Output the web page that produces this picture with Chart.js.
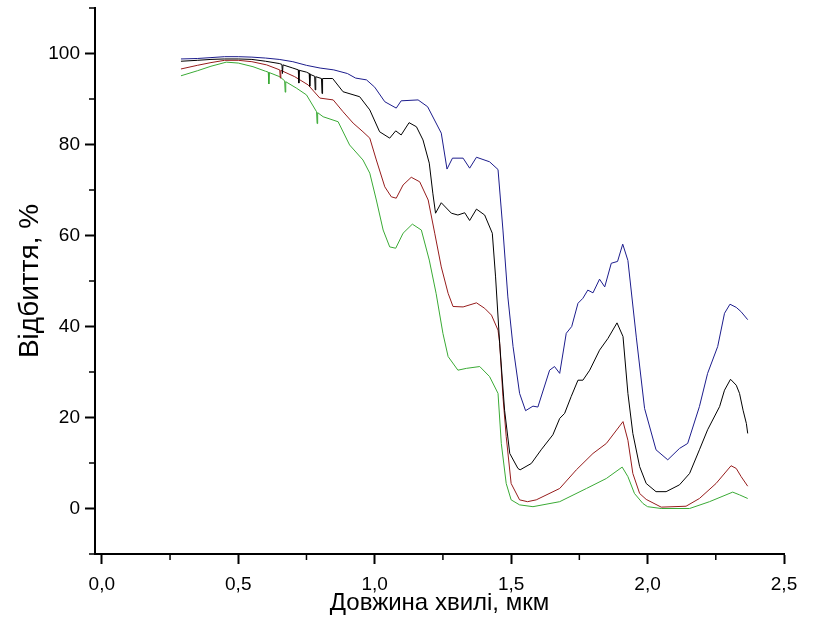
<!DOCTYPE html>
<html lang="uk">
<head>
<meta charset="utf-8">
<title>Відбиття</title>
<script src="https://cdn.jsdelivr.net/npm/chart.js@4.4.1/dist/chart.umd.min.js"></script>
<style>
  html, body { margin: 0; padding: 0; background: #fff; }
  #grafik { display: block; }
</style>
</head>
<body>
<canvas id="grafik" width="823" height="618"></canvas>
<script>
// Спектри відбиття, %, від довжини хвилі, мкм (чотири зразки)
const dovzhynaSynii = [0.29, 0.35, 0.4, 0.45, 0.5, 0.55, 0.6, 0.65, 0.7, 0.75, 0.8, 0.85, 0.9, 0.93, 0.97, 1.0, 1.037, 1.079, 1.097, 1.159, 1.194, 1.244, 1.265, 1.285, 1.324, 1.348, 1.373, 1.421, 1.452, 1.47, 1.488, 1.507, 1.531, 1.553, 1.58, 1.598, 1.641, 1.659, 1.678, 1.702, 1.722, 1.745, 1.763, 1.781, 1.8, 1.824, 1.843, 1.867, 1.89, 1.909, 1.928, 1.959, 1.989, 2.031, 2.074, 2.117, 2.147, 2.19, 2.22, 2.257, 2.282, 2.302, 2.325, 2.342, 2.367];
const vidbyttiaSynii = [98.8, 98.9, 99.1, 99.3, 99.3, 99.2, 99.0, 98.7, 98.2, 97.4, 96.8, 96.4, 95.6, 94.6, 94.2, 92.6, 89.4, 88.0, 89.6, 89.8, 88.3, 82.5, 74.6, 77.0, 77.0, 74.8, 77.2, 76.2, 74.5, 61.2, 46.5, 35.6, 25.3, 21.5, 22.5, 22.3, 30.4, 31.2, 29.7, 38.5, 40.0, 45.1, 46.2, 48.0, 47.4, 50.4, 48.7, 53.9, 54.3, 58.1, 54.5, 37.5, 22.0, 12.9, 10.7, 13.2, 14.3, 22.4, 29.7, 35.6, 42.9, 44.9, 44.2, 43.3, 41.5];

const dovzhynaChornyi = [0.29, 0.35, 0.4, 0.45, 0.5, 0.55, 0.6, 0.65, 0.66, 0.662, 0.664, 0.7, 0.72, 0.722, 0.724, 0.75, 0.76, 0.762, 0.764, 0.78, 0.782, 0.784, 0.805, 0.807, 0.809, 0.846, 0.884, 0.945, 0.982, 1.018, 1.055, 1.077, 1.097, 1.126, 1.153, 1.177, 1.2, 1.213, 1.223, 1.244, 1.281, 1.305, 1.33, 1.348, 1.373, 1.403, 1.431, 1.443, 1.458, 1.476, 1.495, 1.525, 1.533, 1.574, 1.61, 1.653, 1.678, 1.696, 1.72, 1.745, 1.763, 1.788, 1.824, 1.855, 1.888, 1.91, 1.928, 1.946, 1.971, 1.995, 2.031, 2.068, 2.117, 2.154, 2.19, 2.22, 2.264, 2.282, 2.304, 2.325, 2.337, 2.35, 2.362, 2.367];
const vidbyttiaChornyi = [98.3, 98.5, 98.7, 98.8, 98.8, 98.7, 98.3, 97.8, 97.6, 95.6, 97.5, 96.8, 96.4, 93.5, 96.3, 95.9, 95.6, 92.8, 95.4, 95.0, 92.0, 94.9, 94.5, 91.2, 94.5, 94.5, 91.6, 90.5, 87.6, 82.8, 81.4, 83.0, 82.1, 84.8, 83.9, 81.0, 75.9, 69.3, 64.9, 67.2, 64.9, 64.5, 65.0, 63.3, 65.8, 64.5, 60.5, 50.9, 36.3, 21.6, 12.1, 8.8, 8.5, 9.9, 12.9, 16.2, 19.8, 20.9, 24.6, 28.2, 28.2, 30.4, 34.8, 37.4, 40.8, 37.8, 25.3, 16.5, 9.2, 5.5, 3.7, 3.7, 5.2, 7.7, 12.9, 17.3, 22.4, 26.0, 28.4, 27.1, 25.3, 21.6, 18.7, 16.5];

const dovzhynaChervonyi = [0.29, 0.35, 0.4, 0.45, 0.5, 0.55, 0.604, 0.652, 0.654, 0.656, 0.707, 0.756, 0.799, 0.848, 0.884, 0.921, 0.957, 0.982, 1.006, 1.037, 1.061, 1.079, 1.104, 1.134, 1.165, 1.196, 1.22, 1.244, 1.269, 1.287, 1.324, 1.373, 1.403, 1.428, 1.452, 1.458, 1.47, 1.482, 1.5, 1.531, 1.56, 1.592, 1.678, 1.739, 1.8, 1.849, 1.91, 1.928, 1.946, 1.971, 1.995, 2.05, 2.141, 2.19, 2.251, 2.306, 2.325, 2.343, 2.367];
const vidbyttiaChervonyi = [96.6, 97.4, 98.0, 98.5, 98.5, 98.2, 97.5, 96.4, 94.6, 96.3, 94.9, 93.1, 90.2, 89.8, 87.2, 84.7, 82.8, 81.4, 76.6, 70.7, 68.5, 68.2, 71.1, 72.8, 71.8, 67.8, 60.5, 53.1, 47.3, 44.4, 44.3, 45.2, 44.0, 42.5, 39.2, 36.4, 24.6, 15.8, 5.5, 1.9, 1.5, 1.9, 4.4, 8.5, 12.1, 14.3, 19.1, 15.0, 7.7, 3.3, 2.0, 0.3, 0.5, 2.2, 5.5, 9.4, 8.8, 7.0, 4.9];

const dovzhynaZelenyi = [0.29, 0.35, 0.4, 0.456, 0.5, 0.554, 0.6, 0.61, 0.612, 0.614, 0.652, 0.67, 0.672, 0.674, 0.713, 0.75, 0.787, 0.789, 0.791, 0.811, 0.866, 0.908, 0.957, 0.982, 1.006, 1.031, 1.055, 1.077, 1.104, 1.138, 1.171, 1.2, 1.225, 1.25, 1.269, 1.305, 1.336, 1.385, 1.421, 1.452, 1.464, 1.482, 1.5, 1.531, 1.58, 1.678, 1.776, 1.849, 1.907, 1.928, 1.952, 1.983, 2.0, 2.05, 2.154, 2.227, 2.312, 2.337, 2.367];
const vidbyttiaZelenyi = [95.1, 96.2, 97.2, 98.1, 97.9, 97.1, 96.1, 95.9, 93.3, 95.8, 94.9, 94.0, 91.5, 93.8, 92.4, 90.9, 87.2, 84.6, 87.0, 86.1, 85.0, 79.9, 76.6, 73.7, 67.8, 61.2, 57.5, 57.2, 60.5, 62.5, 61.2, 54.6, 47.3, 38.5, 33.4, 30.4, 30.8, 31.2, 29.0, 25.3, 14.3, 5.5, 1.9, 0.8, 0.4, 1.5, 4.4, 6.6, 9.1, 7.0, 3.3, 1.1, 0.4, 0.0, 0.0, 1.5, 3.6, 3.0, 2.2];

// Поділки осей
const xPodilky = [0, 0.5, 1.0, 1.5, 2.0, 2.5];
const xDribni = [0.25, 0.75, 1.25, 1.75, 2.25];
const yPodilky = [0, 20, 40, 60, 80, 100];
const yDribni = [-10, 10, 30, 50, 70, 90, 110];

function tochky(xs, ys) {
  return xs.map((x, i) => ({ x: x, y: ys[i] }));
}

function liniia(dani, kolir) {
  return {
    data: dani,
    borderColor: kolir,
    borderWidth: 1,
    pointRadius: 0,
    tension: 0,
    fill: false
  };
}

// дрібні поділки малюємо самі, назовні від осі
const dribniPodilky = {
  id: 'dribniPodilky',
  afterDraw(chart) {
    const ctx = chart.ctx;
    const sx = chart.scales.x;
    const sy = chart.scales.y;
    ctx.save();
    ctx.strokeStyle = '#000';
    ctx.lineWidth = 1.5;
    ctx.beginPath();
    xDribni.forEach(v => {
      const px = sx.getPixelForValue(v);
      ctx.moveTo(px, sx.top);
      ctx.lineTo(px, sx.top + 6);
    });
    yDribni.forEach(v => {
      const py = sy.getPixelForValue(v);
      ctx.moveTo(sy.right, py);
      ctx.lineTo(sy.right - 6, py);
    });
    ctx.stroke();
    ctx.restore();
  }
};

const shryft = 'Liberation Sans, Arial, sans-serif';

new Chart(document.getElementById('grafik').getContext('2d'), {
  type: 'line',
  data: {
    datasets: [
      liniia(tochky(dovzhynaSynii, vidbyttiaSynii), '#1c1c8c'),
      liniia(tochky(dovzhynaChornyi, vidbyttiaChornyi), '#000000'),
      liniia(tochky(dovzhynaChervonyi, vidbyttiaChervonyi), '#961c1c'),
      liniia(tochky(dovzhynaZelenyi, vidbyttiaZelenyi), '#3aaa35')
    ]
  },
  options: {
    responsive: false,
    animation: false,
    layout: { padding: { top: 8, right: 39, left: 0, bottom: 0 } },
    plugins: {
      legend: { display: false },
      tooltip: { enabled: false }
    },
    scales: {
      x: {
        type: 'linear',
        min: -0.025,
        max: 2.5,
        afterBuildTicks: s => { s.ticks = xPodilky.map(v => ({ value: v })); },
        afterFit: s => { s.height = 64; s.paddingLeft = 0; s.paddingRight = 0; },
        border: { display: true, color: '#000', width: 2 },
        grid: { drawOnChartArea: false, drawTicks: true, tickLength: 10, tickColor: '#000', tickWidth: 2 },
        ticks: {
          color: '#000',
          padding: 9,
          maxRotation: 0,
          font: { family: shryft, size: 19 },
          callback: v => v.toFixed(1).replace('.', ',')
        },
        title: {
          display: true,
          text: 'Довжина хвилі, мкм',
          color: '#000',
          font: { family: shryft, size: 24 },
          padding: { top: 0, bottom: 0 }
        }
      },
      y: {
        min: -10,
        max: 110,
        afterBuildTicks: s => { s.ticks = yPodilky.map(v => ({ value: v })); },
        afterFit: s => { s.width = 95; s.paddingTop = 0; s.paddingBottom = 0; },
        border: { display: true, color: '#000', width: 2 },
        grid: { drawOnChartArea: false, drawTicks: true, tickLength: 10, tickColor: '#000', tickWidth: 2 },
        ticks: {
          color: '#000',
          padding: 5,
          font: { family: shryft, size: 19 }
        },
        title: {
          display: true,
          text: 'Відбиття, %',
          color: '#000',
          font: { family: shryft, size: 28 },
          padding: { top: 13, bottom: 0 }
        }
      }
    }
  },
  plugins: [dribniPodilky]
});
</script>
</body>
</html>
